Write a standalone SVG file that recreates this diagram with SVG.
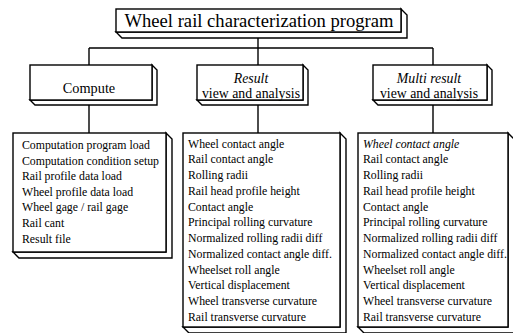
<svg xmlns="http://www.w3.org/2000/svg" width="513" height="333" viewBox="0 0 513 333">
<style>
.box{fill:#fff;stroke:#000;stroke-width:1.4;stroke-linejoin:miter}
.side{fill:#fff;stroke:#000;stroke-width:1.4}
.conn{fill:none;stroke:#000;stroke-width:1.4}
text{font-family:'Liberation Serif','Times New Roman',serif;fill:#000}
.t{font-size:18.6px;text-anchor:middle}
.h{font-size:14.3px;text-anchor:middle}
.h2{font-size:13.8px;text-anchor:middle}
.l{font-size:11.8px}
.i{font-style:italic}
</style>
<rect width="513" height="333" fill="#fff"/>
<g id="connectors">
<path class="conn" d="M258 37 V133"/>
<path class="conn" d="M89 48 H433"/>
<path class="conn" d="M89 48 V65 M89 103 V133"/>
<path class="conn" d="M433 48 V65 M433 103 V133"/>
</g>
<g id="title">
<path class="side" d="M401 9 L407 15 L407 38 L122 38 L116 32 L401 32 Z"/>
<rect class="box" x="116" y="9" width="285" height="23"/>
<text class="t" x="259" y="27">Wheel rail characterization program</text>
</g>
<g id="compute">
<path class="side" d="M152 65 L157 70 L157 105 L35 105 L30 100 L152 100 Z"/>
<rect class="box" x="30" y="65" width="122" height="35"/>
<text class="h" x="89" y="93">Compute</text>
</g>
<g id="result">
<path class="side" d="M303 65 L308 70 L308 105 L202 105 L197 100 L303 100 Z"/>
<rect class="box" x="197" y="65" width="106" height="35"/>
<text class="h2 i" x="251" y="82.5">Result</text>
<text class="h2" x="251" y="97.5">view and analysis</text>
</g>
<g id="multi">
<path class="side" d="M487 65 L492 70 L492 105 L378 105 L373 100 L487 100 Z"/>
<rect class="box" x="373" y="65" width="114" height="35"/>
<text class="h2 i" x="429" y="82.5">Multi result</text>
<text class="h2" x="429" y="97.5">view and analysis</text>
</g>
<g id="compute-list">
<path class="side" d="M166 133 L172 139 L172 258 L19 258 L13 252 L166 252 Z"/>
<rect class="box" x="13" y="133" width="153" height="119"/>
<text class="l" x="22" y="149">Computation program load</text>
<text class="l" x="22" y="164.6">Computation condition setup</text>
<text class="l" x="22" y="180.2">Rail profile data load</text>
<text class="l" x="22" y="195.8">Wheel profile data load</text>
<text class="l" x="22" y="211.4">Wheel gage / rail gage</text>
<text class="l" x="22" y="227">Rail cant</text>
<text class="l" x="22" y="242.6">Result file</text>
</g>
<g id="result-list">
<path class="side" d="M340 133 L346 139 L346 333 L189 333 L183 327 L340 327 Z"/>
<rect class="box" x="183" y="133" width="157" height="194"/>
<text class="l" x="188" y="147.5">Wheel contact angle</text>
<text class="l" x="188" y="163.3">Rail contact angle</text>
<text class="l" x="188" y="179">Rolling radii</text>
<text class="l" x="188" y="194.8">Rail head profile height</text>
<text class="l" x="188" y="210.6">Contact angle</text>
<text class="l" x="188" y="226.4">Principal rolling curvature</text>
<text class="l" x="188" y="242.1">Normalized rolling radii diff</text>
<text class="l" x="188" y="257.9">Normalized contact angle diff.</text>
<text class="l" x="188" y="273.7">Wheelset roll angle</text>
<text class="l" x="188" y="289.4">Vertical displacement</text>
<text class="l" x="188" y="305.2">Wheel transverse curvature</text>
<text class="l" x="188" y="321">Rail transverse curvature</text>
</g>
<g id="multi-list">
<path class="side" d="M508 133 L514 139 L514 333 L364 333 L358 327 L508 327 Z"/>
<rect class="box" x="358" y="133" width="150" height="194"/>
<text class="l i" x="363" y="147.5">Wheel contact angle</text>
<text class="l" x="363" y="163.3">Rail contact angle</text>
<text class="l" x="363" y="179">Rolling radii</text>
<text class="l" x="363" y="194.8">Rail head profile height</text>
<text class="l" x="363" y="210.6">Contact angle</text>
<text class="l" x="363" y="226.4">Principal rolling curvature</text>
<text class="l" x="363" y="242.1">Normalized rolling radii diff</text>
<text class="l" x="363" y="257.9">Normalized contact angle diff.</text>
<text class="l" x="363" y="273.7">Wheelset roll angle</text>
<text class="l" x="363" y="289.4">Vertical displacement</text>
<text class="l" x="363" y="305.2">Wheel transverse curvature</text>
<text class="l" x="363" y="321">Rail transverse curvature</text>
</g>
</svg>
